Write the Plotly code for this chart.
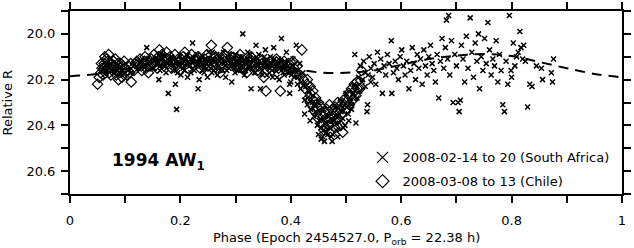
import plotly.graph_objects as go

# Chile run (diamonds)
chile_phase = [
    0.050, 0.053, 0.056, 0.058, 0.060, 0.062, 0.063, 0.065, 0.067, 0.068,
    0.070, 0.071, 0.073, 0.075, 0.077, 0.079, 0.080, 0.082, 0.084, 0.086,
    0.088, 0.090, 0.092, 0.094, 0.096, 0.098, 0.100, 0.103, 0.106, 0.108,
    0.111, 0.114, 0.118, 0.121, 0.124, 0.127, 0.130, 0.133, 0.136, 0.138,
    0.140, 0.142, 0.145, 0.147, 0.150, 0.152, 0.155, 0.158, 0.160, 0.162,
    0.165, 0.167, 0.170, 0.172, 0.175, 0.178, 0.181, 0.184, 0.187, 0.190,
    0.193, 0.196, 0.199, 0.202, 0.205, 0.208, 0.211, 0.214, 0.217, 0.220,
    0.224, 0.228, 0.232, 0.236, 0.240, 0.244, 0.248, 0.252, 0.256, 0.260,
    0.264, 0.268, 0.272, 0.276, 0.280, 0.285, 0.288, 0.292, 0.296, 0.300,
    0.304, 0.308, 0.312, 0.316, 0.320, 0.324, 0.328, 0.332, 0.336, 0.340,
    0.344, 0.348, 0.351, 0.355, 0.358, 0.362, 0.366, 0.370, 0.374, 0.378,
    0.381, 0.384, 0.388, 0.392, 0.396, 0.400, 0.404, 0.408, 0.412, 0.416,
    0.420, 0.423, 0.426, 0.429, 0.432, 0.435, 0.438, 0.441, 0.444, 0.447,
    0.450, 0.453, 0.456, 0.459, 0.462, 0.465, 0.468, 0.471, 0.474, 0.477,
    0.480, 0.483, 0.486, 0.489, 0.492, 0.494, 0.497, 0.500, 0.503, 0.506,
    0.509, 0.512, 0.515, 0.518, 0.521, 0.525, 0.528,
    0.057, 0.061, 0.066, 0.069, 0.074, 0.078, 0.083, 0.087, 0.091, 0.095,
    0.099, 0.105, 0.110, 0.116, 0.123, 0.129, 0.135, 0.141, 0.148, 0.154,
    0.161, 0.168, 0.176, 0.183, 0.191, 0.198, 0.206, 0.215, 0.226, 0.238,
    0.250, 0.262, 0.275, 0.290, 0.302, 0.318, 0.330, 0.342, 0.356, 0.368,
    0.380, 0.394, 0.406, 0.430, 0.435, 0.440, 0.445, 0.450, 0.455, 0.460,
    0.465, 0.470, 0.475, 0.480, 0.485, 0.490, 0.495, 0.505, 0.510, 0.515,
    0.520, 0.460, 0.470, 0.480, 0.490,
]
chile_mag = [
    20.22, 20.19, 20.17, 20.15, 20.18, 20.13, 20.10, 20.16, 20.14, 20.12,
    20.09, 20.17, 20.15, 20.13, 20.16, 20.12, 20.14, 20.11, 20.18, 20.15,
    20.20, 20.17, 20.13, 20.19, 20.16, 20.12, 20.15, 20.18, 20.14, 20.17,
    20.21, 20.15, 20.13, 20.12, 20.14, 20.11, 20.16, 20.13, 20.10, 20.15,
    20.12, 20.17, 20.14, 20.11, 20.13, 20.09, 20.12, 20.15, 20.10, 20.07,
    20.12, 20.09, 20.14, 20.11, 20.08, 20.13, 20.10, 20.15, 20.12, 20.09,
    20.14, 20.11, 20.16, 20.13, 20.10, 20.08, 20.12, 20.15, 20.11, 20.09,
    20.14, 20.12, 20.10, 20.15, 20.13, 20.11, 20.09, 20.12, 20.05, 20.14,
    20.10, 20.12, 20.17, 20.11, 20.09, 20.06, 20.13, 20.10, 20.12, 20.14,
    20.11, 20.09, 20.13, 20.15, 20.17, 20.12, 20.10, 20.14, 20.12, 20.16,
    20.11, 20.13, 20.19, 20.25, 20.14, 20.12, 20.16, 20.13, 20.11, 20.15,
    20.25, 20.14, 20.12, 20.16, 20.13, 20.15, 20.12, 20.17, 20.14, 20.18,
    20.07, 20.20, 20.24, 20.22, 20.28, 20.26, 20.31, 20.29, 20.34, 20.32,
    20.37, 20.35, 20.39, 20.36, 20.41, 20.38, 20.40, 20.37, 20.39, 20.36,
    20.38, 20.34, 20.37, 20.33, 20.35, 20.43, 20.31, 20.33, 20.29, 20.31,
    20.27, 20.29, 20.25, 20.27, 20.24, 20.24, 20.16,
    20.13, 20.15, 20.11, 20.15, 20.18, 20.14, 20.16, 20.13, 20.15, 20.14,
    20.17, 20.16, 20.13, 20.16, 20.13, 20.14, 20.12, 20.14, 20.13, 20.14,
    20.12, 20.13, 20.11, 20.12, 20.13, 20.12, 20.13, 20.12, 20.11, 20.12,
    20.14, 20.12, 20.13, 20.12, 20.12, 20.13, 20.12, 20.14, 20.13, 20.14,
    20.13, 20.14, 20.15, 20.20, 20.23, 20.25, 20.28, 20.30, 20.32, 20.34,
    20.33, 20.31, 20.33, 20.32, 20.30, 20.31, 20.29, 20.26, 20.24, 20.22,
    20.21, 20.42, 20.43, 20.41, 20.40,
]

# South Africa run (crosses)
safr_phase = [
    0.139, 0.152, 0.158, 0.161, 0.165, 0.170, 0.174, 0.178, 0.182, 0.186,
    0.191, 0.193, 0.197, 0.201, 0.205, 0.209, 0.213, 0.217, 0.222, 0.225,
    0.229, 0.232, 0.234, 0.237, 0.240, 0.243, 0.246, 0.249, 0.252, 0.255,
    0.258, 0.261, 0.264, 0.267, 0.270, 0.273, 0.276, 0.279, 0.282, 0.285,
    0.288, 0.291, 0.293, 0.296, 0.299, 0.302, 0.305, 0.308, 0.311, 0.313,
    0.316, 0.319, 0.322, 0.325, 0.328, 0.331, 0.334, 0.337, 0.339, 0.342,
    0.345, 0.348, 0.351, 0.354, 0.357, 0.360, 0.363, 0.366, 0.369, 0.372,
    0.375, 0.378, 0.381, 0.383, 0.386, 0.389, 0.392, 0.395, 0.398, 0.401,
    0.404, 0.407, 0.410, 0.413, 0.416, 0.419, 0.422, 0.425, 0.427, 0.430,
    0.433, 0.436, 0.439, 0.442, 0.445, 0.448, 0.450, 0.452, 0.455, 0.458,
    0.460, 0.461, 0.464, 0.467, 0.470, 0.473, 0.476, 0.479, 0.482, 0.485,
    0.488, 0.491, 0.494, 0.498, 0.501, 0.504, 0.507, 0.510, 0.513, 0.516,
    0.518, 0.520, 0.523, 0.526, 0.529, 0.532, 0.535, 0.538, 0.539, 0.542,
    0.545, 0.548, 0.551, 0.554, 0.557, 0.560, 0.563, 0.566, 0.569, 0.572,
    0.575, 0.578, 0.582, 0.583, 0.586, 0.589, 0.592, 0.595, 0.598, 0.601,
    0.604, 0.607, 0.610, 0.614, 0.617, 0.620, 0.623, 0.626, 0.629, 0.632,
    0.635, 0.638, 0.641, 0.644, 0.647, 0.650, 0.653, 0.656, 0.659, 0.662,
    0.665, 0.668, 0.671, 0.674, 0.677, 0.680, 0.682, 0.684, 0.686, 0.688,
    0.691, 0.694, 0.697, 0.700, 0.703, 0.705, 0.707, 0.709, 0.712, 0.715,
    0.718, 0.721, 0.725, 0.728, 0.731, 0.734, 0.737, 0.740, 0.742, 0.745,
    0.748, 0.751, 0.754, 0.757, 0.760, 0.763, 0.766, 0.769, 0.772, 0.775,
    0.778, 0.781, 0.784, 0.787, 0.790, 0.793, 0.796, 0.799, 0.800, 0.803,
    0.806, 0.809, 0.812, 0.815, 0.817, 0.820, 0.822, 0.825, 0.829, 0.833,
    0.837, 0.845, 0.854, 0.856, 0.872, 0.874, 0.876,
    0.155, 0.163, 0.168, 0.176, 0.184, 0.188, 0.195, 0.199, 0.203, 0.207,
    0.211, 0.215, 0.219, 0.223, 0.227, 0.231, 0.235, 0.239, 0.244, 0.248,
    0.251, 0.254, 0.257, 0.260, 0.263, 0.266, 0.269, 0.272, 0.275, 0.278,
    0.281, 0.284, 0.287, 0.290, 0.294, 0.297, 0.300, 0.303, 0.306, 0.309,
    0.312, 0.315, 0.318, 0.321, 0.324, 0.327, 0.330, 0.333, 0.336, 0.340,
    0.343, 0.346, 0.349, 0.352, 0.355, 0.358, 0.361, 0.364, 0.367, 0.370,
    0.373, 0.376, 0.379, 0.382, 0.385, 0.388, 0.391, 0.394, 0.397, 0.400,
    0.403, 0.406, 0.409, 0.412, 0.415, 0.418, 0.398, 0.425, 0.430, 0.435,
    0.440, 0.445, 0.450, 0.455, 0.460, 0.465, 0.470, 0.475, 0.480, 0.485,
    0.490, 0.495, 0.500, 0.505, 0.510, 0.515, 0.520, 0.525, 0.530, 0.535,
    0.540, 0.545,
]
safr_mag = [
    20.06, 20.15, 20.12, 20.20, 20.10, 20.14, 20.17, 20.26, 20.12, 20.16,
    20.22, 20.33, 20.13, 20.18, 20.15, 20.11, 20.19, 20.14, 20.04, 20.16,
    20.12, 20.24, 20.20, 20.14, 20.10, 20.17, 20.13, 20.19, 20.11, 20.15,
    20.08, 20.16, 20.12, 20.18, 20.14, 20.10, 20.16, 20.13, 20.19, 20.11,
    20.15, 20.09, 20.21, 20.14, 20.17, 20.12, 20.16, 20.10, 20.14, 20.00,
    20.18, 20.13, 20.08, 20.15, 20.24, 20.11, 20.17, 20.05, 20.14, 20.09,
    20.24, 20.16, 20.12, 20.07, 20.18, 20.14, 20.10, 20.16, 20.06, 20.13,
    20.19, 20.11, 20.15, 20.02, 20.17, 20.12, 20.08, 20.14, 20.26, 20.18,
    20.11, 20.16, 20.05, 20.19, 20.13, 20.21, 20.17, 20.35, 20.23, 20.28,
    20.25, 20.33, 20.30, 20.36, 20.31, 20.40, 20.44, 20.38, 20.46, 20.45,
    20.42, 20.47, 20.39, 20.44, 20.41, 20.45, 20.44, 20.38, 20.42, 20.36,
    20.39, 20.34, 20.37, 20.40, 20.32, 20.35, 20.29, 20.31, 20.26, 20.09,
    20.39, 20.23, 20.19, 20.14, 20.21, 20.12, 20.17, 20.34, 20.31, 20.10,
    20.15, 20.19, 20.13, 20.22, 20.08, 20.16, 20.11, 20.26, 20.14, 20.18,
    20.09, 20.13, 20.03, 20.26, 20.17, 20.12, 20.15, 20.20, 20.10, 20.07,
    20.14, 20.18, 20.12, 20.24, 20.16, 20.06, 20.13, 20.20, 20.09, 20.15,
    20.11, 20.22, 20.07, 20.14, 20.18, 20.10, 20.05, 20.13, 20.16, 20.21,
    20.09, 20.28, 20.12, 20.02, 20.15, 20.06, 19.94, 20.11, 19.92, 20.18,
    20.03, 20.30, 20.09, 20.14, 20.30, 20.34, 20.29, 20.05, 20.11, 20.21,
    20.01, 20.15, 19.93, 20.08, 20.19, 20.04, 20.12, 20.00, 20.24, 20.10,
    20.16, 20.02, 20.13, 19.95, 20.07, 20.18, 20.11, 20.14, 20.03, 20.21,
    20.09, 20.16, 20.31, 20.34, 20.12, 20.22, 19.92, 20.16, 20.19, 20.04,
    20.14, 20.10, 20.08, 19.99, 20.06, 20.11, 20.05, 20.12, 20.32, 20.22,
    20.23, 20.14, 20.15, 20.20, 20.17, 20.21, 20.11,
    20.11, 20.16, 20.09, 20.13, 20.10, 20.14, 20.17, 20.10, 20.13, 20.16,
    20.09, 20.12, 20.17, 20.11, 20.14, 20.09, 20.12, 20.16, 20.11, 20.15,
    20.08, 20.13, 20.17, 20.11, 20.15, 20.09, 20.12, 20.16, 20.11, 20.08,
    20.14, 20.16, 20.10, 20.13, 20.11, 20.15, 20.09, 20.14, 20.12, 20.16,
    20.10, 20.13, 20.16, 20.11, 20.14, 20.09, 20.15, 20.12, 20.17, 20.11,
    20.15, 20.13, 20.18, 20.10, 20.14, 20.12, 20.17, 20.13, 20.19, 20.11,
    20.16, 20.14, 20.20, 20.12, 20.15, 20.18, 20.13, 20.17, 20.15, 20.21,
    20.14, 20.19, 20.16, 20.22, 20.18, 20.24, 20.22, 20.29, 20.31, 20.38,
    20.27, 20.34, 20.30, 20.41, 20.33, 20.43, 20.36, 20.47, 20.32, 20.45,
    20.29, 20.41, 20.26, 20.38, 20.33, 20.22, 20.28, 20.25, 20.20, 20.23,
    20.18, 20.21,
]

# model light curve (dashed)
model_phase = [0.0, 0.05, 0.1, 0.15, 0.2, 0.25, 0.3, 0.35, 0.4, 0.45, 0.5,
               0.55, 0.6, 0.65, 0.7, 0.75, 0.8, 0.85, 0.9, 0.95, 1.0]
model_mag = [20.185, 20.175, 20.155, 20.14, 20.13, 20.12, 20.12, 20.13, 20.15,
             20.168, 20.17, 20.16, 20.135, 20.11, 20.095, 20.088, 20.097,
             20.123, 20.15, 20.175, 20.19]

x_ticks = [0, 0.2, 0.4, 0.6, 0.8, 1]
x_tick_text = ["0", "0.2", "0.4", "0.6", "0.8", "1"]
y_ticks = [20.0, 20.2, 20.4, 20.6]

FONT = "DejaVu Sans, Verdana, sans-serif"

fig = go.Figure()

fig.add_trace(go.Scatter(
    x=model_phase, y=model_mag, mode="lines",
    line=dict(color="black", width=2, dash="10px,7px", shape="spline"),
    showlegend=False,
))
fig.add_trace(go.Scatter(
    x=safr_phase, y=safr_mag, mode="markers",
    marker=dict(symbol="x-thin-open", size=5, color="black",
                line=dict(color="black", width=1.5)),
    showlegend=False,
))
fig.add_trace(go.Scatter(
    x=chile_phase, y=chile_mag, mode="markers",
    marker=dict(symbol="diamond-open", size=8, color="black",
                line=dict(color="black", width=1.2)),
    showlegend=False,
))

# legend entries (bigger symbols than the data marks)
fig.add_trace(go.Scatter(
    x=[None], y=[None], mode="markers", name="2008-02-14 to 20 (South Africa)",
    marker=dict(symbol="x-thin-open", size=11, color="black",
                line=dict(color="black", width=1.2)),
    legend="legend",
))
fig.add_trace(go.Scatter(
    x=[None], y=[None], mode="markers", name="2008-03-08 to 13 (Chile)",
    marker=dict(symbol="diamond-open", size=10, color="black",
                line=dict(color="black", width=1.2)),
    legend="legend2",
))

fig.add_annotation(
    x=0.072, y=20.56, xref="x", yref="y", xanchor="left", yanchor="middle",
    text="<b>1994 AW<sub>1</sub></b>", showarrow=False,
    font=dict(family=FONT, size=17, color="black"),
)
# axis titles as annotations for exact placement
fig.add_annotation(
    x=0, y=0.5, xref="paper", yref="paper", xanchor="center", yanchor="middle",
    xshift=-63, textangle=-90, text="Relative R", showarrow=False,
    font=dict(family=FONT, size=13, color="black"),
)
fig.add_annotation(
    x=0.5, y=0, xref="paper", yref="paper", xanchor="center", yanchor="middle",
    yshift=-44, text="Phase (Epoch 2454527.0, P<sub>orb</sub> = 22.38 h)",
    showarrow=False, font=dict(family=FONT, size=13, color="black"),
)

axis_common = dict(
    showline=True, linewidth=2, linecolor="black", mirror="ticks",
    ticks="outside", ticklen=7, tickwidth=2, tickcolor="black",
    showgrid=False, zeroline=False, automargin=False,
    tickfont=dict(family=FONT, size=13, color="black"),
)

fig.update_xaxes(
    range=[0, 1], tickvals=x_ticks, ticktext=x_tick_text, ticklabelstandoff=6,
    minor=dict(dtick=0.1, tick0=0, ticks="outside", ticklen=7,
               tickwidth=2, tickcolor="black"),
    **axis_common,
)
fig.update_yaxes(
    range=[20.7, 19.9], tickvals=y_ticks, tickformat=".1f", ticklabelstandoff=3,
    minor=dict(dtick=0.1, tick0=20.0, ticks="outside", ticklen=7,
               tickwidth=2, tickcolor="black"),
    **axis_common,
)

legend_common = dict(
    xanchor="left", yanchor="middle", bgcolor="rgba(0,0,0,0)",
    font=dict(family=FONT, size=13, color="black"),
    itemwidth=30, borderwidth=0,
)
fig.update_layout(
    width=634, height=248,
    margin=dict(l=70, r=12, t=11, b=54),
    paper_bgcolor="white", plot_bgcolor="white",
    font=dict(family=FONT, size=13, color="black"),
    legend=dict(x=0.53, y=0.2, **legend_common),
    legend2=dict(x=0.53, y=0.07, **legend_common),
)

fig.write_html("out.html", config={"displayModeBar": False},
               post_script="document.body.style.margin = '0';")
